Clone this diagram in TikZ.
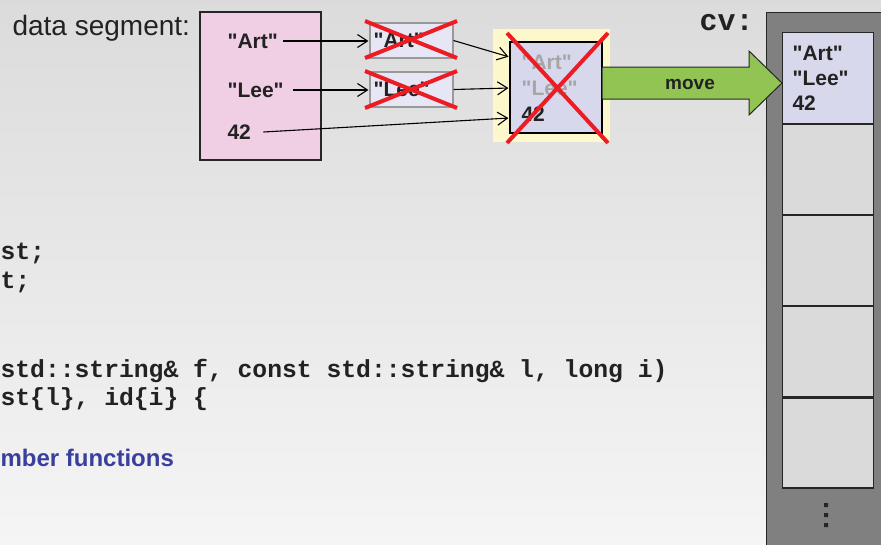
\documentclass[tikz,border=0pt]{standalone}
\usepackage{fontspec}
\setmainfont{Liberation Sans}[Ligatures=TeXOff]
\newfontfamily\codefont{Liberation Mono}[Ligatures=TeXOff]
\usetikzlibrary{positioning,arrows.meta}
\definecolor{segpink}{HTML}{F0CEE4}
\definecolor{strlav}{HTML}{E6E6F4}
\definecolor{objlav}{HTML}{D8D8EC}
\definecolor{hlyellow}{HTML}{FDF8CC}
\definecolor{movegreen}{HTML}{92C454}
\definecolor{colgray}{HTML}{808080}
\definecolor{cellgray}{HTML}{DADADA}
\definecolor{xred}{HTML}{ED1C24}
\definecolor{fnblue}{HTML}{3A3F9E}
\definecolor{ink}{HTML}{222222}

\begin{document}
\begin{tikzpicture}[x=1pt,y=-1pt,line width=1.1pt,
    >={Straight Barb[length=10pt,width=13pt]},
    lbl/.style={font=\fontsize{21}{25}\selectfont\bfseries,text=ink,inner sep=0pt,anchor=west},
    code/.style={font=\codefont\fontsize{24.7}{28}\selectfont\bfseries,text=ink,inner sep=0pt,anchor=west},
    str box/.style={rectangle,draw=black!40,fill=strlav,minimum width=83pt,minimum height=35pt,inner sep=0pt},
    cell/.style={rectangle,draw=black!85,fill=cellgray,minimum width=91pt,minimum height=90pt,inner sep=0pt,anchor=north west},
    cross/.style={draw=xred,line width=4pt},
    link/.style={->,draw=black,line width=1.1pt,shorten >=1pt}]

  \useasboundingbox (0,0) rectangle (881,544);
  \clip (0,0) rectangle (881,544);
  \shade[top color=black!14,bottom color=black!4] (0,0) rectangle (881,544);

  \node[font=\fontsize{28}{32}\selectfont,text=ink,inner sep=0pt,anchor=west] (dseg) at (12,28) {data segment:};
  \node[rectangle,draw=black!85,fill=segpink,minimum width=121pt,minimum height=148pt,inner sep=0pt] (seg) at (260.5,86) {};
  \node[lbl] (sart) at (227,41) {"Art"};
  \node[lbl] (slee) at (227,90) {"Lee"};
  \node[lbl] (sid) at (227,132) {42};

  \node[str box] (art) at (411.5,40.5) {};
  \node[lbl] at (373,40.5) {"Art"};
  \node[str box] (lee) at (411.5,89.5) {};
  \node[lbl] at (373,89.5) {"Lee"};

  \node[rectangle,fill=hlyellow,minimum width=117pt,minimum height=113pt,inner sep=0pt] (hl) at (551.5,85.5) {};
  \node[rectangle,draw=black,fill=objlav,minimum width=92pt,minimum height=91pt,inner sep=0pt] (obj) at (556,87.5) {};
  \node[lbl,text=black!35] at (521,62) {"Art"};
  \node[lbl,text=black!35] at (521,88) {"Lee"};
  \node[lbl] at (521,114) {42};

  \path
    ([xshift=5pt]sart.east) edge[link] (sart.east -| art.west)
    ([xshift=9pt]slee.east) edge[link] (slee.east -| lee.west)
    ([xshift=12pt]sid.east) edge[link] ([yshift=-30.5pt]obj.west)
    (art.east) edge[link] ([yshift=30.5pt]obj.west)
    (lee.east) edge[link] ([yshift=-0.5pt]obj.west);

  \draw[cross] (365,21) -- (457,58) (365,58) -- (457,21);
  \draw[cross] (365,71) -- (457,108) (365,108) -- (457,71);

  \node[font=\codefont\fontsize{30}{34}\selectfont\bfseries,text=ink,inner sep=0pt,anchor=west] (cvl) at (699,23) {cv:};
  \node[rectangle,draw=black!85,fill=colgray,minimum width=130pt,minimum height=540pt,inner sep=0pt,anchor=north west] (cv) at (766,12) {};
  \node[cell,fill=objlav,minimum height=91pt] (c1) at (782,32) {};
  \node[cell,below=0pt of c1] (c2) {};
  \node[cell,below=0pt of c2] (c3) {};
  \node[cell,below=0pt of c3] (c4) {};
  \node[cell,below=0pt of c4] (c5) {};
  \node[lbl] at (792,53) {"Art"};
  \node[lbl] at (792,78) {"Lee"};
  \node[lbl] at (792,103) {42};
  \fill[black!85] (824,503) rectangle (828,507) (824,513) rectangle (828,517) (824,523) rectangle (828,527);

  \draw[fill=movegreen,draw=black!85,line width=1pt]
    (602,67) -- (749,67) -- (749,51) -- (782,83) -- (749,115) -- (749,99) -- (602,99) -- cycle;
  \node[font=\fontsize{19}{22}\selectfont\bfseries,text=ink] (mv) at (690,84) {move};

  \draw[cross] (507,33) -- (608,143) (608,33) -- (507,143);

  \node[code] (ln1) at (0,253) {st;};
  \node[code] (ln2) at (0,282) {t;};
  \node[code] (ln3) at (0,371) {std::string\& f, const std::string\& l, long i)};
  \node[code] (ln4) at (0,399) {st\{l\}, id\{i\} \{};
  \node[font=\fontsize{24}{28}\selectfont\bfseries,text=fnblue,inner sep=0pt,anchor=west] (memfn) at (0,458) {mber functions};
\end{tikzpicture}
\end{document}
